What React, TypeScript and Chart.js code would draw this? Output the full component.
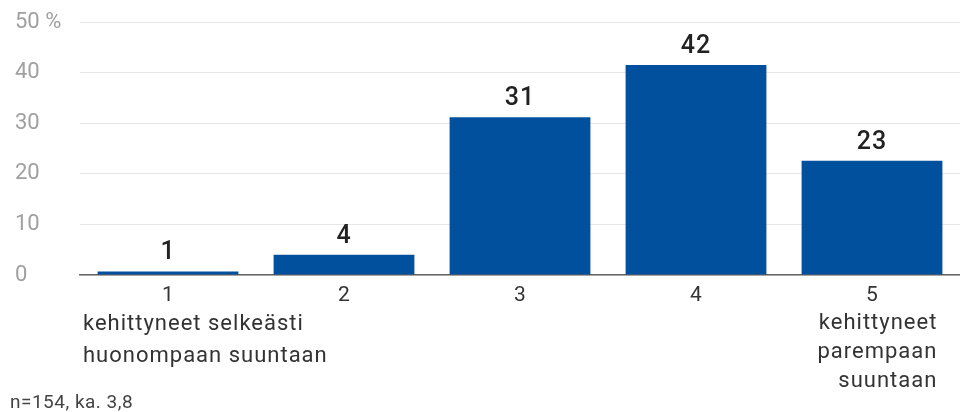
import React, { useEffect, useRef } from 'react';
import { Chart, registerables } from 'chart.js';

Chart.register(...registerables);

const categories = ['1', '2', '3', '4', '5'];
const shares = [0.7, 4.0, 31.2, 41.5, 22.6];
const shareLabels = ['1', '4', '31', '42', '23'];
const yTicks = [0, 10, 20, 30, 40, 50];
const lowEndText = ['kehittyneet selkeästi', 'huonompaan suuntaan'];
const highEndText = ['kehittyneet', 'parempaan', 'suuntaan'];
const footnote = 'n=154, ka. 3,8';

const FONT = 'Roboto, "Noto Sans", sans-serif';

// value labels above the bars
const valueLabels = {
  id: 'valueLabels',
  afterDatasetsDraw(chart: Chart) {
    const ctx = chart.ctx;
    const meta = chart.getDatasetMeta(0);
    ctx.save();
    ctx.font = `500 25px ${FONT}`;
    ctx.fillStyle = '#222222';
    ctx.textAlign = 'center';
    ctx.textBaseline = 'alphabetic';
    (ctx as any).letterSpacing = '1px';
    meta.data.forEach((bar: any, i: number) => {
      ctx.fillText(shareLabels[i], bar.x, bar.y - 12);
    });
    ctx.restore();
  },
};

// end descriptions under the first and last categories
const endTexts = {
  id: 'endTexts',
  afterDraw(chart: Chart) {
    const ctx = chart.ctx;
    const x = chart.scales.x;
    const half = (x.getPixelForValue(1) - x.getPixelForValue(0)) / 2;
    const meta = chart.getDatasetMeta(0);
    const lastBar: any = meta.data[meta.data.length - 1];
    ctx.save();
    ctx.font = `22px ${FONT}`;
    (ctx as any).letterSpacing = '1px';
    ctx.fillStyle = '#333333';
    ctx.textBaseline = 'middle';
    ctx.textAlign = 'left';
    const left = x.getPixelForValue(0) - half + 3;
    lowEndText.forEach((t, i) => ctx.fillText(t, left, 324 + i * 32));
    ctx.textAlign = 'right';
    const right = lastBar.x + lastBar.width / 2 - 5;
    highEndText.forEach((t, i) => ctx.fillText(t, right, 323 + i * 29));
    ctx.textAlign = 'left';
    ctx.font = `19px ${FONT}`;
    (ctx as any).letterSpacing = '0.5px';
    ctx.fillStyle = '#444444';
    ctx.fillText(footnote, 10, 403);
    ctx.restore();
  },
};

function App() {
  const chartRef = useRef<HTMLCanvasElement>(null);
  const chartInstance = useRef<Chart | null>(null);

  useEffect(() => {
    document.body.style.margin = '0';
    if (!chartRef.current) return;
    const ctx = chartRef.current.getContext('2d');
    if (!ctx) return;

    chartInstance.current = new Chart(ctx, {
      type: 'bar',
      data: {
        labels: categories,
        datasets: [
          {
            data: shares,
            backgroundColor: '#00509E',
            categoryPercentage: 0.8,
            barPercentage: 1,
          },
        ],
      },
      options: {
        animation: false,
        responsive: true,
        maintainAspectRatio: false,
        layout: { padding: { top: 22, left: 15, right: 0, bottom: 0 } },
        plugins: {
          legend: { display: false },
          tooltip: { enabled: false },
        },
        scales: {
          y: {
            min: 0,
            max: 50,
            afterFit: (scale: any) => {
              scale.width = 65;
            },
            afterBuildTicks: (scale: any) => {
              scale.ticks = yTicks.map((v) => ({ value: v }));
            },
            border: { display: false },
            grid: { color: '#e6e6e6', drawTicks: false, lineWidth: 1 },
            ticks: {
              crossAlign: 'far',
              color: '#a0a0a0',
              font: { family: FONT, size: 22 },
              callback: (v: any) => (v === 50 ? '50 %' : String(v)),
            },
          },
          x: {
            afterFit: (scale: any) => {
              scale.height = 137;
            },
            border: { display: true, color: '#666666', width: 1.5 },
            grid: { display: false },
            ticks: {
              color: '#333333',
              padding: 0,
              font: { family: FONT, size: 21 },
            },
          },
        },
      },
      plugins: [valueLabels, endTexts],
    });

    return () => {
      if (chartInstance.current) {
        chartInstance.current.destroy();
        chartInstance.current = null;
      }
    };
  }, []);

  return (
    <div style={{ width: '960px', height: '412px', position: 'relative' }}>
      <canvas ref={chartRef}></canvas>
    </div>
  );
}

export default App;
